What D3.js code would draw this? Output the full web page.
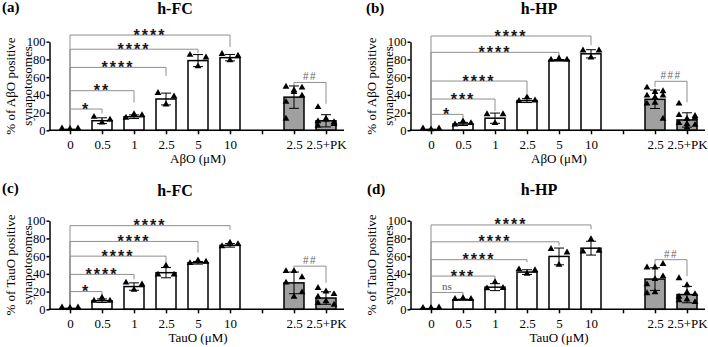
<!DOCTYPE html>
<html><head><meta charset="utf-8">
<script src="https://cdn.jsdelivr.net/npm/d3@7"></script>
<style>body{margin:0;background:#fff}svg{display:block}</style>
</head><body><svg id="chart" width="708" height="347"></svg>
<script>
// ---------- data ----------
const categories = ["0", "0.5", "1", "2.5", "5", "10", "", "2.5", "2.5+PK"];
const greyGroups = [7, 8];
const yTicks = [0, 20, 40, 60, 80, 100];

// (a) h-FC, AβO
const aboFC = [[1, 0.5, 1], [14, 7.5, 11], [13, 17, 16], [41, 28, 37], [84, 71, 81], [85, 78, 83], [],
  [48, 44, 47, 31, 42, 38, 12], [25, 12, 6, 9, 11, 8, 4]];
const aboFCSig = [
  {from: 0, to: 5, y: 107.5, endTo: 94, label: "****"},
  {from: 0, to: 4, y: 91.5, endTo: 87, label: "****"},
  {from: 0, to: 3, y: 71, endTo: 61.5, label: "****"},
  {from: 0, to: 2, y: 44.7, endTo: 31.5, label: "**"},
  {from: 0, to: 1, y: 24, endTo: 19, label: "*"},
  {from: 7, to: 8, y: 54, endFrom: 50, endTo: 30, label: "##"}];

// (b) h-HP, AβO
const aboHP = [[1, 0, 1], [5.5, 9, 7], [17, 7, 17], [32, 36, 32.5], [78.5, 80, 78.5], [89, 81, 89], [],
  [47, 42, 43, 38, 36, 38, 29, 30, 12], [29, 12, 13, 16, 6, 5, 7, 2, 15]];
const aboHPSig = [
  {from: 0, to: 5, y: 106.4, endTo: 96, label: "****"},
  {from: 0, to: 4, y: 88, endTo: 83, label: "****"},
  {from: 0, to: 3, y: 55.6, endTo: 41.7, label: "****"},
  {from: 0, to: 2, y: 35.3, endTo: 22, label: "***"},
  {from: 0, to: 1, y: 18, endTo: 12.8, label: "*"},
  {from: 7, to: 8, y: 55.3, endFrom: 49, endTo: 31.6, label: "###"}];

// (c) h-FC, TauO
const tauFC = [[1, 0.5, 1], [8.5, 12, 8.5], [29, 21, 27], [38, 48, 38], [51, 54, 52.5], [70, 74, 72.5], [],
  [42, 42, 35, 29, 13, 18], [23, 19, 16, 13, 8, 4, 6]];
const tauFCSig = [
  {from: 0, to: 5, y: 94.4, endTo: 89.6, label: "****"},
  {from: 0, to: 4, y: 76.6, endTo: 64, label: "****"},
  {from: 0, to: 3, y: 60, endTo: 53, label: "****"},
  {from: 0, to: 2, y: 39.4, endTo: 33.8, label: "****"},
  {from: 0, to: 1, y: 20, endTo: 15.2, label: "*"},
  {from: 7, to: 8, y: 48.7, endFrom: 42, endTo: 30, label: "##"}];

// (d) h-HP, TauO
const tauHP = [[0.5, 0.5, 1], [10.5, 11.5, 10.5], [22.5, 29.5, 23], [44, 39, 43], [67, 49, 63], [64, 78, 65], [],
  [46, 46, 50, 27, 33, 36, 17, 18], [34, 26, 16, 13, 18, 7, 9, 10]];
const tauHPSig = [
  {from: 0, to: 5, y: 95.2, endTo: 90.3, label: "****"},
  {from: 0, to: 4, y: 76.2, endTo: 71.7, label: "****"},
  {from: 0, to: 3, y: 56, endTo: 53, label: "****"},
  {from: 0, to: 2, y: 37.5, endTo: 32.7, label: "***"},
  {from: 0, to: 1, y: 19, endTo: 14, label: "ns"},
  {from: 7, to: 8, y: 56, endFrom: 49.4, endTo: 37.5, label: "##"}];

const panels = [
  {tag: "(a)", title: "h-FC", xTitle: "AβO (μM)", yLab: "% of AβO positive", data: aboFC, sig: aboFCSig, ox: 0, oy: 0, titleX: 175, titleY: 14, tagX: 2, tagY: 12},
  {tag: "(b)", title: "h-HP", xTitle: "AβO (μM)", yLab: "% of AβO positive", data: aboHP, sig: aboHPSig, ox: 361, oy: 0, titleX: 539, titleY: 14, tagX: 366, tagY: 12.5},
  {tag: "(c)", title: "h-FC", xTitle: "TauO (μM)", yLab: "% of TauO positive", data: tauFC, sig: tauFCSig, ox: 0, oy: 179, titleX: 175, titleY: 195.5, tagX: 2, tagY: 193},
  {tag: "(d)", title: "h-HP", xTitle: "TauO (μM)", yLab: "% of TauO positive", data: tauHP, sig: tauHPSig, ox: 361, oy: 179, titleX: 539, titleY: 195, tagX: 367, tagY: 194}
];

// ---------- drawing ----------
const svg = d3.select("#chart");
const serif = "Liberation Serif, Times New Roman, serif";
const sans = "Liberation Sans, Arial, sans-serif";
const axisX = 49.5, xFirst = 70, xLast = 326, yZero = 130.3, yHundred = 41.7;
const barW = 20, capHalf = 5, legEnd = 3;
const jitter = [-8, 0, 8];
const tri = d3.symbol().type(d3.symbolTriangle).size(20);

panels.forEach(p => {
  const g = svg.append("g").attr("transform", `translate(${p.ox},${p.oy})`);
  const x = d3.scalePoint().domain(d3.range(categories.length)).range([xFirst, xLast]);
  const y = d3.scaleLinear().domain([0, 100]).range([yZero, yHundred]);
  const stats = p.data.map((vals, i) => vals.length ? {i, vals, mean: d3.mean(vals), sd: d3.deviation(vals) || 0} : null).filter(d => d);

  // tag and title
  svg.append("text").attr("x", p.tagX).attr("y", p.tagY)
    .style("font-family", serif).attr("font-weight", "bold").attr("font-size", 15).text(p.tag);
  svg.append("text").attr("x", p.titleX).attr("y", p.titleY)
    .attr("text-anchor", "middle").style("font-family", serif).attr("font-weight", "bold").attr("font-size", 16).text(p.title);

  // significance brackets
  const bg = g.append("g").attr("fill", "none").attr("stroke", "#8f8f8f").attr("stroke-width", 1);
  p.sig.forEach(s => {
    const x1 = x(s.from), x2 = x(s.to), yy = y(s.y);
    const e1 = y(s.endFrom !== undefined ? s.endFrom : legEnd), e2 = y(s.endTo);
    bg.append("path").attr("d", `M${x1},${e1}V${yy}H${x2}V${e2}`);
    const isStar = s.label.startsWith("*");
    const isHash = s.label.startsWith("#");
    const t = g.append("text").attr("x", (x1 + x2) / 2).attr("text-anchor", "middle").text(s.label);
    if (isStar) {
      t.attr("y", yy + 5.5).style("font-family", sans).attr("font-weight", "bold").attr("font-size", 16)
        .attr("letter-spacing", 2).attr("fill", "#1a1a1a");
    } else if (isHash) {
      t.attr("y", yy - 2).style("font-family", sans).attr("font-size", 10).attr("letter-spacing", 1.5).attr("fill", "#666");
    } else {
      t.attr("y", yy - 2.5).style("font-family", serif).attr("font-size", 11).attr("fill", "#555");
    }
  });

  // bars
  g.append("g").selectAll("rect").data(stats).join("rect")
    .attr("x", d => x(d.i) - barW / 2).attr("width", barW)
    .attr("y", d => y(d.mean)).attr("height", d => y(0) - y(d.mean))
    .attr("fill", d => greyGroups.includes(d.i) ? "#a0a0a0" : "#fff")
    .attr("stroke", "#000").attr("stroke-width", 1.5);

  // error bars (mean ± SD)
  const eg = g.append("g").attr("stroke", "#000").attr("stroke-width", 1).attr("fill", "none");
  stats.forEach(d => {
    const cx = x(d.i), t = y(d.mean + d.sd), b = y(Math.max(0, d.mean - d.sd));
    eg.append("path").attr("d", `M${cx},${t}V${b}M${cx - capHalf},${t}H${cx + capHalf}M${cx - capHalf},${b}H${cx + capHalf}`);
  });

  // points
  const pg = g.append("g").attr("fill", "#000");
  stats.forEach(d => {
    d.vals.forEach((v, k) => {
      pg.append("path").attr("d", tri)
        .attr("transform", `translate(${x(d.i) + jitter[k % 3]},${y(v) - 1})`);
    });
  });

  // y axis
  const ya = g.append("g").attr("transform", `translate(${axisX},0)`)
    .call(d3.axisLeft(y).tickValues(yTicks).tickSize(3).tickSizeOuter(0).tickPadding(1));
  ya.selectAll("path,line").attr("stroke", "#000").attr("stroke-width", 1.5);
  ya.selectAll("text").style("font-family", serif).attr("font-size", 12.5).attr("fill", "#000");

  // x axis
  const xa = g.append("g").attr("transform", `translate(0,${yZero})`)
    .call(d3.axisBottom(x).tickFormat(i => categories[i]).tickSize(4).tickSizeOuter(0).tickPadding(5));
  xa.select(".domain").remove();
  xa.append("line").attr("x1", axisX - 0.75).attr("x2", xLast + 18).attr("stroke", "#000").attr("stroke-width", 1.5);
  xa.selectAll(".tick line").attr("stroke", "#000").attr("stroke-width", 1.5);
  xa.selectAll("text").style("font-family", serif).attr("font-size", 13).attr("fill", "#000");

  // axis titles
  g.append("text").attr("x", (xFirst + xLast) / 2).attr("y", yZero + 32.5).attr("text-anchor", "middle")
    .style("font-family", serif).attr("font-size", 13).text(p.xTitle);
  const yl = g.append("text").attr("transform", `translate(${axisX - 35},${(yZero + yHundred) / 2}) rotate(-90)`)
    .attr("text-anchor", "middle").style("font-family", serif).attr("font-size", 13);
  yl.append("tspan").attr("x", 0).attr("y", 0).text(p.yLab);
  yl.append("tspan").attr("x", 0).attr("y", 17).text("synapotosomes");
});
</script></body></html>
